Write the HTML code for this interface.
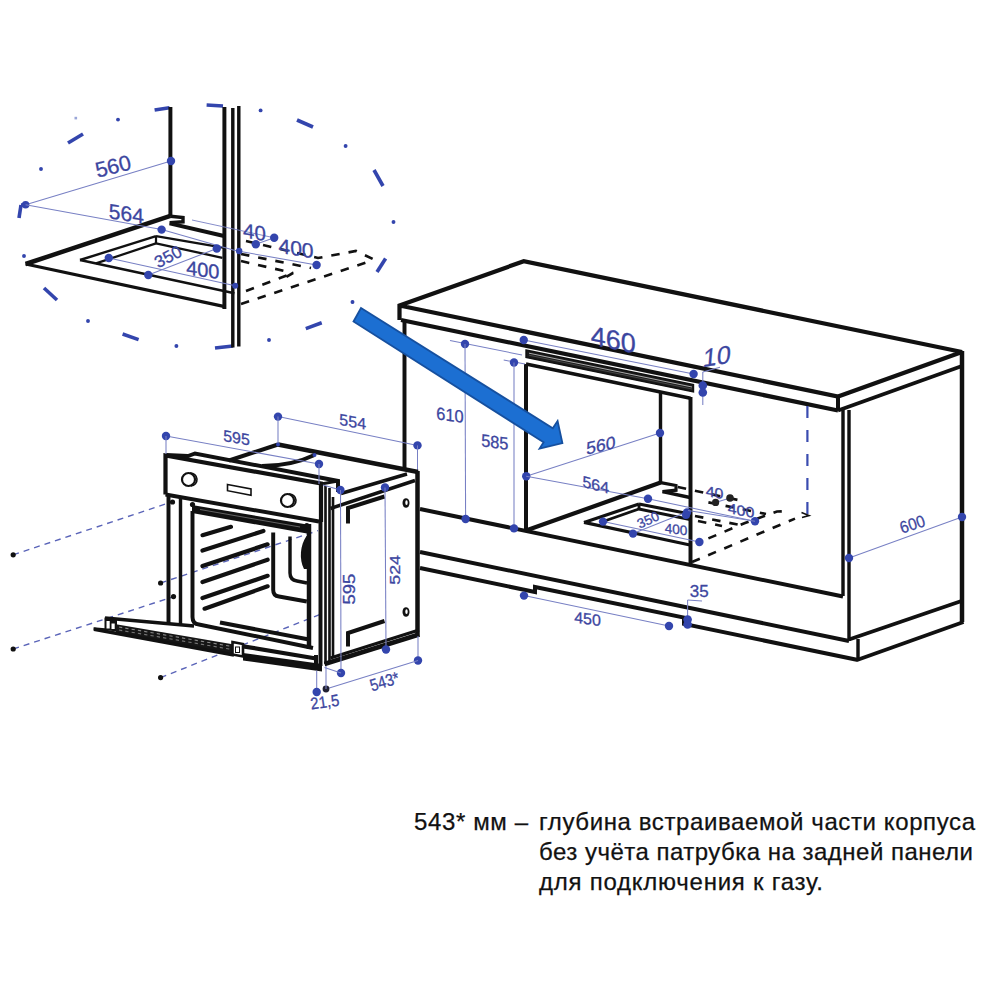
<!DOCTYPE html>
<html><head><meta charset="utf-8"><style>
html,body{margin:0;padding:0;background:#fff;width:1000px;height:1000px;overflow:hidden}
svg{position:absolute;left:0;top:0}
svg text{font-family:"Liberation Sans",sans-serif}
</style></head><body>
<svg width="1000" height="1000" viewBox="0 0 1000 1000" stroke-linecap="butt">
<line x1="154.6" y1="110" x2="169.5" y2="107.7" stroke="#3345ad" stroke-width="3.6" stroke-linecap="butt"/>
<line x1="206.6" y1="105" x2="223" y2="106" stroke="#3345ad" stroke-width="3.6" stroke-linecap="butt"/>
<line x1="297" y1="120" x2="313" y2="127" stroke="#3345ad" stroke-width="3.6" stroke-linecap="butt"/>
<line x1="374" y1="170" x2="383" y2="186" stroke="#3345ad" stroke-width="3.6" stroke-linecap="butt"/>
<line x1="377" y1="272" x2="385.6" y2="258.5" stroke="#3345ad" stroke-width="3.6" stroke-linecap="butt"/>
<line x1="305.8" y1="328.6" x2="321.7" y2="322.8" stroke="#3345ad" stroke-width="3.6" stroke-linecap="butt"/>
<line x1="215" y1="348" x2="233" y2="346" stroke="#3345ad" stroke-width="3.6" stroke-linecap="butt"/>
<line x1="122.6" y1="334" x2="138.6" y2="339.6" stroke="#3345ad" stroke-width="3.6" stroke-linecap="butt"/>
<line x1="44" y1="288" x2="57" y2="300" stroke="#3345ad" stroke-width="3.6" stroke-linecap="butt"/>
<line x1="68" y1="143" x2="83" y2="134" stroke="#3345ad" stroke-width="3.6" stroke-linecap="butt"/>
<line x1="19" y1="218" x2="21" y2="205" stroke="#3345ad" stroke-width="3.6" stroke-linecap="butt"/>
<line x1="21" y1="205" x2="25.6" y2="204.8" stroke="#3345ad" stroke-width="3.6" stroke-linecap="butt"/>
<circle cx="260.6" cy="110.4" r="1.95" fill="#3345ad"/>
<circle cx="345.6" cy="146" r="1.95" fill="#3345ad"/>
<circle cx="393.5" cy="222" r="1.95" fill="#3345ad"/>
<circle cx="352.5" cy="302" r="1.95" fill="#3345ad"/>
<circle cx="269" cy="340" r="1.95" fill="#3345ad"/>
<circle cx="176.4" cy="346" r="1.95" fill="#3345ad"/>
<circle cx="88" cy="321" r="1.95" fill="#3345ad"/>
<circle cx="24" cy="256" r="1.95" fill="#3345ad"/>
<circle cx="41" cy="169" r="1.95" fill="#3345ad"/>
<circle cx="118" cy="119.6" r="1.95" fill="#3345ad"/>
<rect x="74.5" y="116.8" width="2.6" height="2.6" fill="#9aa6d8"/>
<line x1="170.4" y1="107" x2="170.4" y2="216.5" stroke="#111" stroke-width="3.96" />
<line x1="224.4" y1="107" x2="224.4" y2="309" stroke="#111" stroke-width="3.96" />
<line x1="232.8" y1="108" x2="232.8" y2="347.5" stroke="#111" stroke-width="3.43" />
<line x1="238.8" y1="106" x2="238.8" y2="346.5" stroke="#111" stroke-width="3.43" />
<line x1="25.6" y1="264" x2="170.4" y2="215.8" stroke="#111" stroke-width="4.49" />
<path d="M170.4,216.2 L183,217.5 L183,221.8 L169.6,222.6" fill="none" stroke="#111" stroke-width="3.43" stroke-linejoin="miter" stroke-miterlimit="2.2" />
<line x1="169.6" y1="223.4" x2="224" y2="236" stroke="#111" stroke-width="3.96" />
<line x1="25.6" y1="264" x2="224.8" y2="306.6" stroke="#111" stroke-width="3.17" />
<line x1="80" y1="260" x2="156" y2="236.2" stroke="#111" stroke-width="2.38" />
<line x1="156" y1="236.2" x2="223.2" y2="247.6" stroke="#111" stroke-width="2.38" />
<line x1="156" y1="236.2" x2="156" y2="243.4" stroke="#111" stroke-width="2.24" />
<line x1="96" y1="263.4" x2="156" y2="243.4" stroke="#111" stroke-width="2.24" />
<line x1="156" y1="243.4" x2="222.4" y2="257.8" stroke="#111" stroke-width="2.24" />
<line x1="80" y1="260" x2="234.4" y2="293.2" stroke="#111" stroke-width="2.51" />
<path d="M246,241 L318,258 L356,251 L373,259" fill="none" stroke="#111" stroke-width="2.64" stroke-linejoin="miter" stroke-miterlimit="2.2" stroke-dasharray="8.5 9"/>
<line x1="241" y1="254" x2="311" y2="268" stroke="#111" stroke-width="2.64" stroke-dasharray="8.5 9"/>
<path d="M241,261 L293,273 L286,277" fill="none" stroke="#111" stroke-width="2.64" stroke-linejoin="miter" stroke-miterlimit="2.2" stroke-dasharray="8.5 9"/>
<line x1="246" y1="291" x2="293" y2="273" stroke="#111" stroke-width="2.64" stroke-dasharray="8.5 9"/>
<line x1="241" y1="304" x2="371" y2="261" stroke="#111" stroke-width="2.64" stroke-dasharray="8.5 9"/>
<line x1="25.6" y1="204.8" x2="171" y2="161" stroke="#7880c4" stroke-width="1.05" />
<circle cx="171" cy="161" r="4.2" fill="#3345ad"/>
<circle cx="25.6" cy="204.8" r="3.8" fill="#3345ad"/>
<line x1="25.6" y1="204.8" x2="161.6" y2="229.6" stroke="#7880c4" stroke-width="1.05" />
<line x1="161.6" y1="229.6" x2="235" y2="250.6" stroke="#7880c4" stroke-width="1.05" />
<circle cx="161.6" cy="229.6" r="4.2" fill="#3345ad"/>
<line x1="148.3" y1="275" x2="216.8" y2="248.5" stroke="#7880c4" stroke-width="1.05" />
<circle cx="148.3" cy="275" r="4.2" fill="#3345ad"/>
<circle cx="216.8" cy="248.5" r="4.2" fill="#3345ad"/>
<line x1="108.8" y1="258" x2="235.2" y2="285.8" stroke="#7880c4" stroke-width="1.05" />
<circle cx="108.8" cy="258" r="4.2" fill="#3345ad"/>
<circle cx="235.2" cy="285.8" r="3" fill="#3345ad"/>
<line x1="235" y1="250.6" x2="316.6" y2="265" stroke="#7880c4" stroke-width="1.05" />
<circle cx="239.2" cy="251" r="3.2" fill="#3345ad"/>
<circle cx="316.6" cy="265" r="4.2" fill="#3345ad"/>
<line x1="192" y1="220" x2="274.2" y2="237.8" stroke="#7880c4" stroke-width="0.9" />
<line x1="255.8" y1="244.2" x2="274.2" y2="237.8" stroke="#7880c4" stroke-width="1.05" />
<circle cx="255.8" cy="244.2" r="4.2" fill="#3345ad"/>
<circle cx="274.2" cy="237.8" r="4.2" fill="#3345ad"/>
<path d="M399.5,320 L399.5,305.5 L523.75,261.25 L962,352 L838,396.5 L399.5,305.5" fill="none" stroke="#111" stroke-width="4.22" stroke-linejoin="miter" stroke-miterlimit="2.2" />
<line x1="838" y1="396.5" x2="838" y2="410.5" stroke="#111" stroke-width="3.96" />
<line x1="401" y1="320" x2="838" y2="410.5" stroke="#111" stroke-width="4.22" />
<line x1="838" y1="410.5" x2="962" y2="366" stroke="#111" stroke-width="3.96" />
<line x1="962" y1="351" x2="962" y2="622" stroke="#111" stroke-width="4.49" />
<line x1="404.5" y1="320" x2="404.5" y2="470" stroke="#111" stroke-width="3.96" />
<line x1="843" y1="410" x2="843" y2="596" stroke="#111" stroke-width="3.43" />
<line x1="849" y1="410" x2="849" y2="641" stroke="#111" stroke-width="3.43" />
<line x1="420" y1="509" x2="843" y2="596.5" stroke="#111" stroke-width="3.96" />
<line x1="849" y1="639.5" x2="961.5" y2="601" stroke="#111" stroke-width="3.96" />
<line x1="858" y1="639" x2="858" y2="660.5" stroke="#111" stroke-width="3.43" />
<line x1="857" y1="660" x2="963.5" y2="622" stroke="#111" stroke-width="3.96" />
<line x1="420" y1="552" x2="849" y2="641" stroke="#111" stroke-width="3.96" />
<path d="M420,568 L535,592 L535,587 L684,617.5 L684,624 L858,660" fill="none" stroke="#111" stroke-width="3.96" stroke-linejoin="miter" stroke-miterlimit="2.2" />
<line x1="526" y1="364" x2="526" y2="531" stroke="#111" stroke-width="3.96" />
<line x1="526" y1="364" x2="690.5" y2="398.3" stroke="#111" stroke-width="3.43" />
<line x1="690.5" y1="397" x2="690.5" y2="565" stroke="#111" stroke-width="3.96" />
<line x1="660.5" y1="393" x2="660.5" y2="483" stroke="#111" stroke-width="3.43" />
<path d="M526,350 L693.5,384.5 L693.5,392 L526,357.5 Z" fill="#1a1a1a" stroke="#111" stroke-width="1.4"/>
<line x1="529" y1="353.2" x2="692" y2="387" stroke="#bbb" stroke-width="0.9" />
<line x1="529" y1="355.2" x2="692" y2="389" stroke="#666" stroke-width="0.6" />
<line x1="526" y1="530.5" x2="660.7" y2="482.6" stroke="#111" stroke-width="4.22" />
<path d="M660.7,482.6 L676,485.5 L676,490.2 L662.5,491.6" fill="none" stroke="#111" stroke-width="3.17" stroke-linejoin="miter" stroke-miterlimit="2.2" />
<line x1="662.5" y1="491.6" x2="690" y2="497.5" stroke="#111" stroke-width="3.43" />
<line x1="584" y1="522.4" x2="639" y2="504" stroke="#111" stroke-width="3.17" />
<line x1="639" y1="504" x2="690" y2="514" stroke="#111" stroke-width="3.17" />
<line x1="639" y1="504" x2="639" y2="509" stroke="#111" stroke-width="2.9" />
<line x1="606" y1="520.5" x2="639" y2="509" stroke="#111" stroke-width="2.9" />
<line x1="639" y1="509" x2="690" y2="519.5" stroke="#111" stroke-width="2.9" />
<line x1="584" y1="522.4" x2="690" y2="545" stroke="#111" stroke-width="3.17" />
<line x1="677.8" y1="487" x2="740.8" y2="500.6" stroke="#111" stroke-width="2.64" stroke-dasharray="8.5 9"/>
<line x1="708.4" y1="502.4" x2="766" y2="514" stroke="#111" stroke-width="2.64" stroke-dasharray="8.5 9"/>
<line x1="695" y1="516" x2="745" y2="526" stroke="#111" stroke-width="2.64" stroke-dasharray="8.5 9"/>
<line x1="698" y1="521" x2="722" y2="526" stroke="#111" stroke-width="2.64" stroke-dasharray="8.5 9"/>
<path d="M708.4,538.4 L745,523 L777,511.5 L790,511" fill="none" stroke="#111" stroke-width="2.64" stroke-linejoin="miter" stroke-miterlimit="2.2" stroke-dasharray="8.5 9"/>
<line x1="692" y1="562" x2="795" y2="518.6" stroke="#111" stroke-width="2.64" stroke-dasharray="8.5 9"/>
<line x1="807.4" y1="406" x2="807.4" y2="515" stroke="#3a4cb0" stroke-width="2.2" stroke-dasharray="12 12"/>
<path d="M801.5,512.5 L809,515.5 L802,517.5" fill="none" stroke="#111" stroke-width="1.6"/>
<line x1="450" y1="340.5" x2="522" y2="355" stroke="#7880c4" stroke-width="1.05" />
<circle cx="465" cy="344" r="4.2" fill="#3345ad"/>
<line x1="465" y1="344" x2="465.6" y2="519" stroke="#7880c4" stroke-width="1.05" />
<circle cx="465.6" cy="519" r="4.2" fill="#3345ad"/>
<line x1="503.7" y1="360" x2="525" y2="364" stroke="#7880c4" stroke-width="1.05" />
<circle cx="514" cy="362.5" r="4.2" fill="#3345ad"/>
<line x1="514" y1="362.5" x2="514" y2="528.4" stroke="#7880c4" stroke-width="1.05" />
<circle cx="514" cy="528.4" r="4.2" fill="#3345ad"/>
<line x1="523.75" y1="340" x2="693.6" y2="374" stroke="#7880c4" stroke-width="1.05" />
<circle cx="523.75" cy="340" r="4.2" fill="#3345ad"/>
<circle cx="693.6" cy="374" r="4.2" fill="#3345ad"/>
<line x1="702.8" y1="372" x2="702.8" y2="405" stroke="#7880c4" stroke-width="1.05" />
<line x1="702.8" y1="372" x2="720" y2="367.2" stroke="#7880c4" stroke-width="1.05" />
<circle cx="702.8" cy="385.5" r="4.3" fill="#3345ad"/>
<circle cx="702.8" cy="392.5" r="4.3" fill="#3345ad"/>
<line x1="526.25" y1="476.25" x2="660" y2="433" stroke="#7880c4" stroke-width="1.05" />
<circle cx="526.25" cy="476.25" r="4.2" fill="#3345ad"/>
<circle cx="660" cy="433" r="4.2" fill="#3345ad"/>
<line x1="526.25" y1="476.25" x2="648" y2="498.8" stroke="#7880c4" stroke-width="1.05" />
<line x1="648" y1="498.8" x2="755" y2="521.3" stroke="#7880c4" stroke-width="1.05" />
<circle cx="648" cy="498.8" r="4.2" fill="#3345ad"/>
<line x1="633" y1="533.6" x2="687" y2="512" stroke="#7880c4" stroke-width="1.05" />
<circle cx="633" cy="533.6" r="4.2" fill="#3345ad"/>
<circle cx="687" cy="512.5" r="4.2" fill="#3345ad"/>
<circle cx="686" cy="515" r="4" fill="#3345ad"/>
<line x1="603" y1="521.6" x2="699.4" y2="542" stroke="#7880c4" stroke-width="1.05" />
<circle cx="603" cy="521.6" r="4.2" fill="#3345ad"/>
<circle cx="699.4" cy="542" r="4.2" fill="#3345ad"/>
<circle cx="755" cy="521.3" r="4.2" fill="#3345ad"/>
<line x1="688" y1="510.5" x2="755" y2="521.3" stroke="#7880c4" stroke-width="1.05" />
<line x1="715.6" y1="502.4" x2="730" y2="498" stroke="#7880c4" stroke-width="1.05" />
<circle cx="715.6" cy="502.4" r="3.6" fill="#222"/>
<circle cx="730" cy="498" r="3.8" fill="#222"/>
<line x1="849" y1="558" x2="962" y2="517" stroke="#7880c4" stroke-width="1.05" />
<circle cx="962" cy="517" r="4.2" fill="#3345ad"/>
<circle cx="849" cy="558" r="4.2" fill="#3345ad"/>
<line x1="524" y1="595.6" x2="669" y2="626" stroke="#7880c4" stroke-width="1.05" />
<circle cx="524" cy="595.6" r="4.2" fill="#3345ad"/>
<circle cx="669" cy="626" r="4.2" fill="#3345ad"/>
<line x1="687.6" y1="600" x2="687.6" y2="628" stroke="#7880c4" stroke-width="1.05" />
<line x1="687.6" y1="600" x2="702" y2="601" stroke="#7880c4" stroke-width="1.05" />
<circle cx="687.6" cy="619.5" r="4.3" fill="#3345ad"/>
<circle cx="687.6" cy="624.5" r="4.3" fill="#3345ad"/>
<line x1="278" y1="416.6" x2="417.5" y2="445.4" stroke="#7880c4" stroke-width="1.05" />
<circle cx="278" cy="416.6" r="4.2" fill="#3345ad"/>
<circle cx="417.5" cy="445.4" r="4.2" fill="#3345ad"/>
<line x1="417.5" y1="445.4" x2="417.5" y2="472" stroke="#7880c4" stroke-width="1.05" />
<path d="M361,308 L552.8,428.2 L557.6,421 L562.4,443 L539.6,448.6 L543.6,442.2 L353.5,321.5 Z" fill="#1c6fd2" stroke="#16509f" stroke-width="1.8" stroke-linejoin="miter"/>
<circle cx="352.5" cy="302" r="1.6" fill="#3345ad"/>
<line x1="13.2" y1="554.8" x2="171.6" y2="502" stroke="#5a64b8" stroke-width="1.4" stroke-dasharray="6 5"/>
<line x1="13.2" y1="649" x2="173.8" y2="596.6" stroke="#5a64b8" stroke-width="1.4" stroke-dasharray="6 5"/>
<line x1="160.6" y1="583" x2="318" y2="530.6" stroke="#5a64b8" stroke-width="1.4" stroke-dasharray="6 5"/>
<line x1="160.6" y1="677.6" x2="322" y2="613.6" stroke="#5a64b8" stroke-width="1.4" stroke-dasharray="6 5"/>
<circle cx="13.2" cy="554.8" r="2.6" fill="#111"/>
<circle cx="13.2" cy="649" r="2.6" fill="#111"/>
<circle cx="160.6" cy="583" r="2.6" fill="#111"/>
<circle cx="160.6" cy="677.6" r="2.6" fill="#111"/>
<circle cx="172.5" cy="502" r="2.6" fill="#111"/>
<circle cx="173.5" cy="596.6" r="2.6" fill="#111"/>
<circle cx="192.5" cy="504.5" r="2.6" fill="#111"/>
<circle cx="306.8" cy="525.5" r="2.6" fill="#111"/>
<line x1="278" y1="444.5" x2="418" y2="472" stroke="#111" stroke-width="4.49" />
<line x1="229" y1="460.5" x2="278" y2="444.5" stroke="#111" stroke-width="3.96" />
<path d="M262,466 C285,466 300,462 314.5,455" fill="none" stroke="#111" stroke-width="3.96" />
<line x1="341" y1="493.5" x2="407" y2="474" stroke="#111" stroke-width="3.43" />
<line x1="330.5" y1="508.5" x2="415" y2="480.5" stroke="#111" stroke-width="3.43" />
<line x1="417.5" y1="471" x2="417.5" y2="637" stroke="#111" stroke-width="4.49" />
<line x1="324.5" y1="664" x2="419" y2="634.5" stroke="#111" stroke-width="4.49" />
<line x1="330.5" y1="658" x2="419" y2="630" stroke="#111" stroke-width="3.17" />
<path d="M348,523.5 L348,508 L384.5,496.5" fill="none" stroke="#111" stroke-width="3.96" stroke-linejoin="miter" stroke-miterlimit="2.2" />
<path d="M348,646.5 L348,633 L384.5,621" fill="none" stroke="#111" stroke-width="3.96" stroke-linejoin="miter" stroke-miterlimit="2.2" />
<ellipse cx="406" cy="503" rx="3.5" ry="4.8" fill="#111"/>
<ellipse cx="406.5" cy="502.7" rx="1.2" ry="2.4" fill="#fff"/>
<ellipse cx="406" cy="612" rx="3.5" ry="4.8" fill="#111"/>
<ellipse cx="406.5" cy="611.7" rx="1.2" ry="2.4" fill="#fff"/>
<path d="M165.5,494.5 L165.5,455.5 L321,483.5 L321,522" fill="none" stroke="#111" stroke-width="4.22" stroke-linejoin="miter" stroke-miterlimit="2.2" />
<line x1="165.5" y1="494.5" x2="319" y2="521.5" stroke="#111" stroke-width="3.96" />
<path d="M166,455 L188,456 L195,453.5 L338,481 L338,492" fill="none" stroke="#111" stroke-width="3.96" stroke-linejoin="miter" stroke-miterlimit="2.2" />
<line x1="321" y1="484" x2="338" y2="481" stroke="#111" stroke-width="3.17" />
<circle cx="188.5" cy="479.5" r="6.5" fill="#fff" stroke="#111" stroke-width="2.2"/>
<path d="M190,473 A6.5,6.5 0 0 1 191,486" fill="none" stroke="#111" stroke-width="1.6"/>
<circle cx="287.5" cy="500.5" r="6.5" fill="#fff" stroke="#111" stroke-width="2.2"/>
<path d="M289,494 A6.5,6.5 0 0 1 290,507" fill="none" stroke="#111" stroke-width="1.6"/>
<path d="M227.5,484.5 L251,489 L251,495.3 L227.5,490.7 Z" fill="none" stroke="#111" stroke-width="1.6"/>
<line x1="168.5" y1="495" x2="168.5" y2="625" stroke="#111" stroke-width="3.96" />
<line x1="180.5" y1="496" x2="180.5" y2="624" stroke="#111" stroke-width="3.43" />
<line x1="320.5" y1="522" x2="320.5" y2="666" stroke="#111" stroke-width="3.96" />
<line x1="325.5" y1="486" x2="325.5" y2="664" stroke="#111" stroke-width="2.64" />
<line x1="329.5" y1="488" x2="329.5" y2="662" stroke="#111" stroke-width="2.64" />
<line x1="333" y1="497" x2="333" y2="658" stroke="#111" stroke-width="2.64" />
<line x1="309" y1="524" x2="309" y2="649" stroke="#111" stroke-width="4.49" />
<path d="M192.5,511 L192.5,617 Q192.5,624 199,624.5 L313,648" fill="none" stroke="#111" stroke-width="3.96" />
<path d="M192,505 L307,524.5 L307,533.5 L192,513 Z" fill="#111"/>
<line x1="200" y1="509.5" x2="300" y2="527" stroke="#777" stroke-width="0.8" />
<path d="M273.2,532.4 L273.2,590 Q273.2,596 279,596.5 L306.8,601.5" fill="none" stroke="#111" stroke-width="3.96" />
<path d="M290,536.6 L290,573 Q290,580 297,581 L307,583" fill="none" stroke="#111" stroke-width="3.43" />
<line x1="220" y1="622.5" x2="309" y2="639.5" stroke="#111" stroke-width="3.96" />
<path d="M306.5,536 C300,545 299,560 304,569 L307,569 L307,536 Z" fill="#111"/>
<line x1="202.5" y1="535.2" x2="231" y2="526.8" stroke="#111" stroke-width="4.22" stroke-linecap="round"/>
<line x1="202.5" y1="550.6" x2="263.4" y2="531" stroke="#111" stroke-width="4.22" stroke-linecap="round"/>
<line x1="202.5" y1="566" x2="267.6" y2="544.3" stroke="#111" stroke-width="4.22" stroke-linecap="round"/>
<line x1="202.5" y1="582" x2="267.6" y2="559.7" stroke="#111" stroke-width="4.22" stroke-linecap="round"/>
<line x1="202.5" y1="598" x2="267.6" y2="575.8" stroke="#111" stroke-width="4.22" stroke-linecap="round"/>
<line x1="204.6" y1="608.7" x2="267.6" y2="586.3" stroke="#111" stroke-width="4.22" stroke-linecap="round"/>
<line x1="93.5" y1="628.8" x2="105" y2="629.6" stroke="#111" stroke-width="2.9" />
<path d="M104.5,617.5 L117,619.5 L117,631.5 L104.5,630 Z" fill="#111"/>
<rect x="106.5" y="621" width="3.2" height="7.5" fill="#fff"/>
<rect x="111.5" y="623.5" width="3.2" height="5.5" fill="#fff"/>
<line x1="105" y1="618" x2="194" y2="626" stroke="#111" stroke-width="3.43" />
<path d="M116,624.2 L234,644.5 L234,654.5 L116,632.5 Z" fill="#161616"/>
<line x1="94" y1="629.2" x2="234" y2="655" stroke="#111" stroke-width="3.43" />
<line x1="119.0" y1="627.016" x2="122.2" y2="627.616" stroke="#8a8a8a" stroke-width="1.1" />
<line x1="119.0" y1="630.016" x2="122.2" y2="630.616" stroke="#777" stroke-width="1.1" />
<line x1="125.3" y1="628.0996" x2="128.5" y2="628.6996" stroke="#8a8a8a" stroke-width="1.1" />
<line x1="125.3" y1="631.0996" x2="128.5" y2="631.6996" stroke="#777" stroke-width="1.1" />
<line x1="131.6" y1="629.1831999999999" x2="134.79999999999998" y2="629.7832" stroke="#8a8a8a" stroke-width="1.1" />
<line x1="131.6" y1="632.1831999999999" x2="134.79999999999998" y2="632.7832" stroke="#777" stroke-width="1.1" />
<line x1="137.9" y1="630.2668" x2="141.1" y2="630.8668" stroke="#8a8a8a" stroke-width="1.1" />
<line x1="137.9" y1="633.2668" x2="141.1" y2="633.8668" stroke="#777" stroke-width="1.1" />
<line x1="144.2" y1="631.3504" x2="147.39999999999998" y2="631.9504000000001" stroke="#8a8a8a" stroke-width="1.1" />
<line x1="144.2" y1="634.3504" x2="147.39999999999998" y2="634.9504000000001" stroke="#777" stroke-width="1.1" />
<line x1="150.5" y1="632.434" x2="153.7" y2="633.034" stroke="#8a8a8a" stroke-width="1.1" />
<line x1="150.5" y1="635.434" x2="153.7" y2="636.034" stroke="#777" stroke-width="1.1" />
<line x1="156.8" y1="633.5176" x2="160.0" y2="634.1176" stroke="#8a8a8a" stroke-width="1.1" />
<line x1="156.8" y1="636.5176" x2="160.0" y2="637.1176" stroke="#777" stroke-width="1.1" />
<line x1="163.1" y1="634.6012" x2="166.29999999999998" y2="635.2012" stroke="#8a8a8a" stroke-width="1.1" />
<line x1="163.1" y1="637.6012" x2="166.29999999999998" y2="638.2012" stroke="#777" stroke-width="1.1" />
<line x1="169.4" y1="635.6848" x2="172.6" y2="636.2848" stroke="#8a8a8a" stroke-width="1.1" />
<line x1="169.4" y1="638.6848" x2="172.6" y2="639.2848" stroke="#777" stroke-width="1.1" />
<line x1="175.7" y1="636.7684" x2="178.89999999999998" y2="637.3684000000001" stroke="#8a8a8a" stroke-width="1.1" />
<line x1="175.7" y1="639.7684" x2="178.89999999999998" y2="640.3684000000001" stroke="#777" stroke-width="1.1" />
<line x1="182.0" y1="637.852" x2="185.2" y2="638.452" stroke="#8a8a8a" stroke-width="1.1" />
<line x1="182.0" y1="640.852" x2="185.2" y2="641.452" stroke="#777" stroke-width="1.1" />
<line x1="188.3" y1="638.9356" x2="191.5" y2="639.5356" stroke="#8a8a8a" stroke-width="1.1" />
<line x1="188.3" y1="641.9356" x2="191.5" y2="642.5356" stroke="#777" stroke-width="1.1" />
<line x1="194.6" y1="640.0192" x2="197.79999999999998" y2="640.6192" stroke="#8a8a8a" stroke-width="1.1" />
<line x1="194.6" y1="643.0192" x2="197.79999999999998" y2="643.6192" stroke="#777" stroke-width="1.1" />
<line x1="200.89999999999998" y1="641.1028" x2="204.09999999999997" y2="641.7028" stroke="#8a8a8a" stroke-width="1.1" />
<line x1="200.89999999999998" y1="644.1028" x2="204.09999999999997" y2="644.7028" stroke="#777" stroke-width="1.1" />
<line x1="207.2" y1="642.1864" x2="210.39999999999998" y2="642.7864000000001" stroke="#8a8a8a" stroke-width="1.1" />
<line x1="207.2" y1="645.1864" x2="210.39999999999998" y2="645.7864000000001" stroke="#777" stroke-width="1.1" />
<line x1="213.5" y1="643.27" x2="216.7" y2="643.87" stroke="#8a8a8a" stroke-width="1.1" />
<line x1="213.5" y1="646.27" x2="216.7" y2="646.87" stroke="#777" stroke-width="1.1" />
<line x1="219.8" y1="644.3536" x2="223.0" y2="644.9536" stroke="#8a8a8a" stroke-width="1.1" />
<line x1="219.8" y1="647.3536" x2="223.0" y2="647.9536" stroke="#777" stroke-width="1.1" />
<line x1="226.1" y1="645.4372" x2="229.29999999999998" y2="646.0372" stroke="#8a8a8a" stroke-width="1.1" />
<line x1="226.1" y1="648.4372" x2="229.29999999999998" y2="649.0372" stroke="#777" stroke-width="1.1" />
<path d="M232.5,642 L243,644 L243,656.5 L232.5,654.5 Z" fill="#fff" stroke="#111" stroke-width="2.6"/>
<rect x="235.5" y="647" width="4" height="5.5" fill="#fff" stroke="#111" stroke-width="1"/>
<line x1="243" y1="646.3" x2="316" y2="658.5" stroke="#111" stroke-width="4.22" />
<path d="M243,653 L322,664 L322,671.5 L243,660.5 Z" fill="#111"/>
<line x1="316" y1="655" x2="316" y2="665" stroke="#111" stroke-width="3.96" />
<line x1="166" y1="436" x2="319" y2="464" stroke="#7880c4" stroke-width="1.05" />
<circle cx="166" cy="436" r="4.2" fill="#3345ad"/>
<circle cx="319" cy="464" r="4.2" fill="#3345ad"/>
<line x1="166" y1="436" x2="166" y2="454" stroke="#7880c4" stroke-width="1.05" />
<line x1="278" y1="416.6" x2="278" y2="445" stroke="#7880c4" stroke-width="1.05" />
<line x1="319" y1="464" x2="319" y2="484" stroke="#7880c4" stroke-width="1.05" />
<circle cx="278" cy="444.5" r="2" fill="#3345ad"/>
<circle cx="314.5" cy="455" r="2" fill="#3345ad"/>
<line x1="323" y1="485" x2="340.4" y2="490" stroke="#7880c4" stroke-width="1.05" />
<circle cx="340.4" cy="490" r="4.2" fill="#3345ad"/>
<line x1="340.5" y1="490" x2="341" y2="673" stroke="#7880c4" stroke-width="1.05" />
<circle cx="341" cy="673" r="4.2" fill="#3345ad"/>
<line x1="324.5" y1="667.5" x2="341" y2="673" stroke="#7880c4" stroke-width="1.05" />
<circle cx="385" cy="487.5" r="4.2" fill="#3345ad"/>
<line x1="385" y1="487.5" x2="386" y2="649.5" stroke="#7880c4" stroke-width="1.05" />
<circle cx="386" cy="649.5" r="4.2" fill="#3345ad"/>
<line x1="418" y1="636" x2="418" y2="660.5" stroke="#7880c4" stroke-width="1.05" />
<circle cx="418" cy="660.5" r="4.2" fill="#3345ad"/>
<line x1="326" y1="689" x2="418" y2="660.5" stroke="#7880c4" stroke-width="1.05" />
<circle cx="326" cy="689" r="3.4" fill="#223"/>
<line x1="326" y1="666" x2="326" y2="689" stroke="#7880c4" stroke-width="1.05" />
<line x1="316.7" y1="670.5" x2="316.7" y2="692" stroke="#7880c4" stroke-width="1.05" />
<circle cx="316.7" cy="692" r="4.2" fill="#3345ad"/>
<text transform="translate(113,166) rotate(-14)" x="0" y="7.70" font-size="21.5" fill="#3c46a0" stroke="#3c46a0" stroke-width="0.3" text-anchor="middle">560</text>
<text transform="translate(126.3,213.5) skewY(9)" x="0" y="7.52" font-size="21" fill="#3c46a0" stroke="#3c46a0" stroke-width="0.3" text-anchor="middle">564</text>
<text transform="translate(168,256.5) rotate(-28)" x="0" y="6.09" font-size="17" fill="#3c46a0" stroke="#3c46a0" stroke-width="0.3" text-anchor="middle">350</text>
<text transform="translate(202.8,269.6) skewY(8)" x="0" y="7.16" font-size="20" fill="#3c46a0" stroke="#3c46a0" stroke-width="0.3" text-anchor="middle">400</text>
<text transform="translate(254.4,231.9) skewY(10)" x="0" y="7.34" font-size="20.5" fill="#3c46a0" stroke="#3c46a0" stroke-width="0.3" text-anchor="middle">40</text>
<text transform="translate(296,248.2) skewY(9) scale(1.03,1)" x="0" y="7.34" font-size="20.5" fill="#3c46a0" stroke="#3c46a0" stroke-width="0.3" text-anchor="middle">400</text>
<text transform="translate(450,414.8) skewY(8) scale(0.93,1)" x="0" y="6.30" font-size="17.6" fill="#3c46a0" stroke="#3c46a0" stroke-width="0.3" text-anchor="middle">610</text>
<text transform="translate(494.8,441.8) skewY(8) scale(0.93,1)" x="0" y="6.30" font-size="17.6" fill="#3c46a0" stroke="#3c46a0" stroke-width="0.3" text-anchor="middle">585</text>
<text transform="translate(613.3,339.3) skewY(11.3)" x="0" y="9.67" font-size="27" fill="#3c46a0" stroke="#3c46a0" stroke-width="0.3" text-anchor="middle">460</text>
<text transform="translate(717,355.8) skewY(-10) skewX(-5)" x="0" y="8.95" font-size="25" fill="#3c46a0" stroke="#3c46a0" stroke-width="0.3" text-anchor="middle">10</text>
<text transform="translate(600.8,445) skewY(-13)" x="0" y="6.26" font-size="17.5" fill="#3c46a0" stroke="#3c46a0" stroke-width="0.3" text-anchor="middle">560</text>
<text transform="translate(595.8,484.6) skewY(15)" x="0" y="5.73" font-size="16" fill="#3c46a0" stroke="#3c46a0" stroke-width="0.3" text-anchor="middle">564</text>
<text transform="translate(714.5,492.4) skewY(10) scale(1.1,1)" x="0" y="5.19" font-size="14.5" fill="#3c46a0" stroke="#3c46a0" stroke-width="0.3" text-anchor="middle">40</text>
<text transform="translate(741,510.3) skewY(11) scale(1.1,1)" x="0" y="5.19" font-size="14.5" fill="#3c46a0" stroke="#3c46a0" stroke-width="0.3" text-anchor="middle">400</text>
<text transform="translate(648,519.7) rotate(-25)" x="0" y="4.83" font-size="13.5" fill="#3c46a0" stroke="#3c46a0" stroke-width="0.3" text-anchor="middle">350</text>
<text transform="translate(676,529.2) skewY(7)" x="0" y="4.87" font-size="13.6" fill="#3c46a0" stroke="#3c46a0" stroke-width="0.3" text-anchor="middle">400</text>
<text transform="translate(912.3,523.9) rotate(-18) scale(0.9,1)" x="0" y="6.09" font-size="17" fill="#3c46a0" stroke="#3c46a0" stroke-width="0.3" text-anchor="middle">600</text>
<text transform="translate(587.5,618.6) skewY(7)" x="0" y="5.73" font-size="16" fill="#3c46a0" stroke="#3c46a0" stroke-width="0.3" text-anchor="middle">450</text>
<text transform="translate(699.2,590.9)" x="0" y="6.09" font-size="17" fill="#3c46a0" stroke="#3c46a0" stroke-width="0.3" text-anchor="middle">35</text>
<text transform="translate(352.7,421.5) skewY(11)" x="0" y="5.73" font-size="16" fill="#3c46a0" stroke="#3c46a0" stroke-width="0.3" text-anchor="middle">554</text>
<text transform="translate(236.5,437.6) skewY(10)" x="0" y="5.73" font-size="16" fill="#3c46a0" stroke="#3c46a0" stroke-width="0.3" text-anchor="middle">595</text>
<text transform="translate(349.3,589.2) rotate(-90) scale(1.12,1)" x="0" y="5.91" font-size="16.5" fill="#3c46a0" stroke="#3c46a0" stroke-width="0.3" text-anchor="middle">595</text>
<text transform="translate(394.5,569.9) rotate(-90) scale(1.15,1)" x="0" y="5.55" font-size="15.5" fill="#3c46a0" stroke="#3c46a0" stroke-width="0.3" text-anchor="middle">524</text>
<text transform="translate(384.5,681.3) rotate(-17) scale(0.85,1)" x="0" y="6.09" font-size="17" fill="#3c46a0" stroke="#3c46a0" stroke-width="0.3" text-anchor="middle">543*</text>
<text transform="translate(324.7,701.7) rotate(-8) scale(0.9,1)" x="0" y="5.91" font-size="16.5" fill="#3c46a0" stroke="#3c46a0" stroke-width="0.3" text-anchor="middle">21,5</text>
<text x="414" y="830" font-size="24" fill="#111" stroke="#111" stroke-width="0.25" textLength="114" lengthAdjust="spacing">543* мм –</text>
<text x="539" y="829.5" font-size="24" fill="#111" stroke="#111" stroke-width="0.25" textLength="436" lengthAdjust="spacing">глубина встраиваемой части корпуса</text>
<text x="539" y="859.5" font-size="24" fill="#111" stroke="#111" stroke-width="0.25" textLength="434" lengthAdjust="spacing">без учёта патрубка на задней панели</text>
<text x="539" y="890" font-size="24" fill="#111" stroke="#111" stroke-width="0.25" textLength="284" lengthAdjust="spacing">для подключения к газу.</text>
</svg>

</body></html>
